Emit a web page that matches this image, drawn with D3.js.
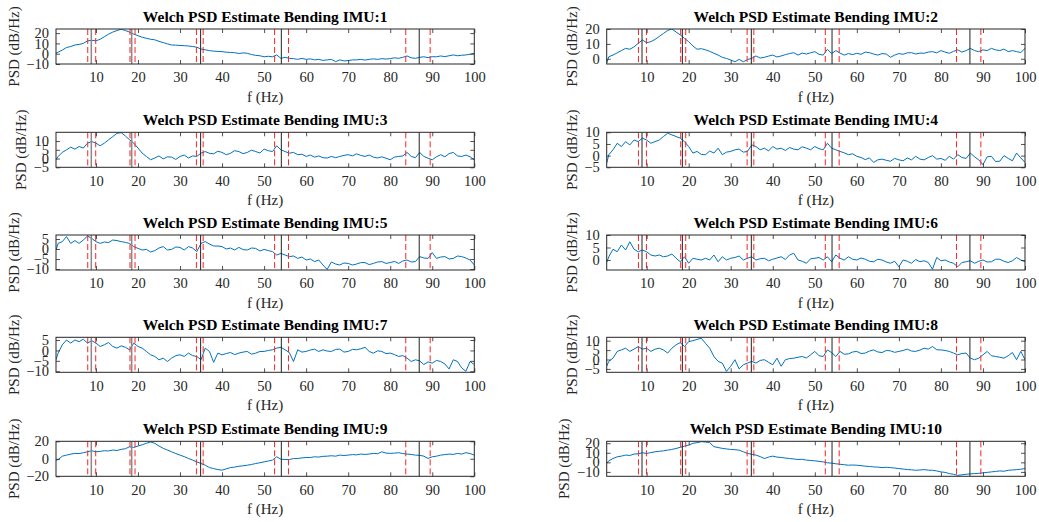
<!DOCTYPE html>
<html><head><meta charset="utf-8">
<script src="https://cdn.jsdelivr.net/npm/d3@7/dist/d3.min.js"></script>
<style>body{margin:0;background:#fff} svg{display:block}</style>
</head><body>
<svg id="c" width="1039" height="522"></svg>
<script>
// frequency grid (Hz)
const freqs = [0.5].concat(d3.range(1, 101));
const xTicks = [10, 20, 30, 40, 50, 60, 70, 80, 90, 100];
const blackLines = [8.9, 18.5, 34.9, 54.1, 86.9];
const redLines = [8.05, 9.95, 18.1, 19.3, 33.9, 35.5, 52.5, 55.8, 83.7, 89.5];
const titles = ["Welch PSD Estimate Bending IMU:1","Welch PSD Estimate Bending IMU:2","Welch PSD Estimate Bending IMU:3","Welch PSD Estimate Bending IMU:4","Welch PSD Estimate Bending IMU:5","Welch PSD Estimate Bending IMU:6","Welch PSD Estimate Bending IMU:7","Welch PSD Estimate Bending IMU:8","Welch PSD Estimate Bending IMU:9","Welch PSD Estimate Bending IMU:10"];
const yDomains = [[-10,24],[-3.5,20],[-5,15],[-5,10],[-10.5,7],[-4,10],[-10.5,6.3],[-6.8,11.8],[-20,20],[-14.6,22]];
const yTicks = [[-10,0,10,20],[0,10,20],[-5,0,5,10],[-5,0,5,10],[-10,-5,0,5],[0,5,10],[-10,-5,0,5],[-5,0,5,10],[-20,0,20],[-10,0,10,20]];

const imu1 = [0.5,1.5,3.5,6,7,8.5,9,10,12.5,13,12.5,14,16.5,19,21,22.5,23.8,22.5,21,19,17.5,16,15,14,13.5,12,10.8,9.5,8.5,8.3,8,7.8,7.5,7,6.3,4.5,3.8,3,2.5,2.2,2,1.5,1.2,1,0.2,0.8,0.4,-0.8,-1.6,-2,-3,-2.5,-3,-1.2,-4.5,-3.5,-4.5,-4.8,-5.5,-4.5,-5.5,-5,-6,-5.5,-6.5,-6,-5.5,-7.7,-6,-7,-6.7,-6,-6,-5.5,-6.2,-5.5,-5,-5.5,-4.8,-5.2,-4.8,-4,-4.5,-3.5,-2.2,-4,-4.5,-3.5,-3,-3.8,-2.9,-3,-2.2,-2.8,-2,-1.2,-2,-1.5,-1.2,-0.5,0.4];
const imu2 = [-3,1.4,2.5,4,5.5,7,6.4,8,10.4,12.6,10.8,11.5,13,15,17,19,20,18,16,13.7,11.5,8.6,6.4,6.8,6,5,3.7,2.5,1,0.2,-0.8,-2,-0.4,-2,-0.5,0.3,1.9,0.5,1,1.8,2.5,1.2,1.9,2.8,3.5,4.1,2.5,3.8,3.2,4,4.8,3,2.5,6.4,3.5,5.5,3.8,2.5,3.5,2.8,3.7,3,4.5,4.1,3.2,2.5,3.5,3.2,1,2.5,3.5,3,4,4.1,3.2,3.8,3.7,4.5,4.8,4,5.5,4.5,3.7,5,6,4.5,5.5,7,5.5,4.8,6,5.5,7,6,5.5,6.5,4.8,5.5,4.8,4.2,7];
const imu3 = [-0.7,1.2,3.5,5,6.5,5.4,6.9,6,8.8,9.7,8.8,7.3,8.8,10.7,12.5,14.4,14.8,12.9,10.7,8.8,6,3.1,1.2,-0.7,0.3,1.5,-0.2,1,0.8,-0.5,1.2,2,0.3,1.5,1.2,3.1,4,3,2.7,4.2,3.5,2.2,3,4.5,4,2.8,3.5,4.8,4,3.2,5.4,4.5,4,7.3,5,4,3.1,3.5,2.2,2.5,1.2,2,0.8,1.5,0.5,0.3,1.2,0.5,1.2,1.8,2.2,1.5,2.7,1.8,1.2,2,0.8,0.3,1,0.2,-0.7,0.8,1.2,1.5,3.5,1.2,0.5,3.5,1.2,0.2,-0.7,1,2.2,1,2.8,3.5,1.5,1.2,2,1,-0.7];
const imu4 = [-3.2,0.4,2.5,5.3,3.9,6,4.6,6.7,6,7.5,6.7,5.3,6,6.7,8.2,9.6,8.9,8.2,7.5,6,3.9,1.1,1.8,0.5,0.4,2,1.1,3.2,0.4,1.5,1.8,2.5,2.8,1.5,1.8,4.6,3.9,2.5,3.2,2,3.9,2.8,3.2,2.2,3.5,2.8,2.5,3.8,3.2,2.5,3.9,3,2.5,5.3,3.2,2.5,1.8,1.2,0.4,0.8,-0.3,-0.8,-1.7,-1,-2.9,-1.8,-1.5,-2,-2.4,-1.2,-1.8,-2.2,-1,-1.8,-0.3,-1.5,-1.8,-0.8,0,-1.5,-1.2,-2,-0.3,-1.5,0.4,-0.8,-1.2,1.1,-0.5,-1.8,-3.9,-0.5,-0.3,-2.5,-2.4,0,-1.2,-2.2,1.1,-1,-2.9];
const imu5 = [-0.5,2.8,3.7,6.2,2.8,4.2,2.8,4.5,6.5,5.3,3.7,2.8,3.5,3.2,4.5,4.2,3.7,3.3,2.8,1.2,0.3,-0.5,-0.2,-1.5,-0.8,0.5,1.2,-0.5,-0.2,1,0.8,-0.5,1.2,0.5,-1.3,2.8,3.7,2.5,1.5,1.5,1.2,0,0.5,-0.5,0.8,-0.3,-0.5,0.5,0.3,-1,-0.2,-0.8,-1.3,-3,-2.2,-3,-3.8,-3.5,-4.7,-4,-5.5,-5,-6.3,-5.5,-8,-10.2,-6.5,-7.5,-8,-7,-7.2,-8,-7.5,-6.8,-6.8,-7.8,-7.2,-6.5,-6.3,-7.2,-6.8,-6.2,-7.2,-6,-5.5,-6.5,-6.3,-3.8,-4.5,-4.7,-1.8,-4.7,-4,-3.8,-5,-4.7,-3.5,-3.8,-4.5,-5.5,-8];
const imu6 = [-1,1.3,4.3,3.3,6,4,7.3,4.3,3.3,4,3.3,2,1.6,2,1.3,1.6,2.4,0.7,-0.7,1.3,-1.3,0.7,0.3,0,0.7,0,2,-0.7,1.3,0,0.7,1,1.6,0,0.7,1.3,0,0.5,0.7,-0.3,0.3,0.8,1.3,0.2,2,2.7,0,-0.5,-1.3,0.5,0.7,1,0,1.3,-0.7,2,0.7,0,1.3,0.3,0,0.8,0.3,-0.5,-0.7,0.3,0,-0.8,-1.3,-0.5,-2.7,0,-0.5,-1.3,0.2,-0.7,-0.3,-1,-3.7,1,-0.3,0,-0.8,-1.3,-2.7,-1,-0.7,-0.3,-1.3,-0.5,0,-0.8,-0.7,0.3,0.3,-0.5,-1,-0.3,1,0,-0.7];
const imu7 = [-4.5,-1.3,2.7,5,3.5,5,4.2,5.4,3.5,4.7,3.5,1.9,2.7,3.8,1.9,1.1,2.2,1.5,0.3,3.5,1.9,1.1,-0.5,-2.1,-2.9,-4.5,-3.7,-5.3,-3.7,-2.5,-2.1,-2.9,-1.3,-2.5,-2.9,-4.5,1.1,-0.5,-5.7,-1.3,-2.1,-1.5,-1,-2,-1.3,-0.8,-0.5,-1.8,-1.3,-0.5,-0.5,0,0.3,1.1,1.5,0.3,-1,-5.3,0.3,-0.8,-0.5,0.2,0.6,-0.5,0.3,-0.3,-0.5,0.5,0.6,-0.8,-0.5,0.5,0.3,0.8,1.5,-0.5,-1.3,-0.2,-0.5,-1.5,-1.3,-2,-2.9,-2.5,-3.7,-5.3,-4.5,-5,-6.8,-5.5,-6.1,-4.8,-5.3,-6.5,-8.9,-4.5,-5.3,-8.4,-10,-5.3,-6.8];
const imu8 = [-3.6,-1,0.7,4.3,5.1,6,4.3,5.5,6.9,5.5,6,4.3,5.5,6,5.1,3.4,6,7.8,9,6.9,9.5,10,10.7,11.3,8.6,6,1.6,-1,-1.9,-6.3,-3.6,-0.1,-5,-2.8,-1.9,-1,-1.9,-0.5,-0.1,-1.5,-2.8,0.7,-3.6,-0.1,0.5,0.7,1.2,1.6,0.8,2.5,4.3,2,1.6,5.1,3.7,1.6,4.3,2.8,3,4,4.3,3.2,3.4,4.5,5.1,4,3.7,4.8,4.6,3.8,4.3,4.8,5.5,4.5,4.3,5,6,5.5,6.9,5.2,5.1,4.8,4.3,3.4,2.5,3.2,3.4,0.7,-0.1,0.7,2.5,4.3,2,1.6,1.2,0.7,2,3.7,-0.1,4.3,-0.1];
const imu9 = [-1.5,-1,3,4.2,5.3,6.2,6,7,8,9.2,8,8.5,9.2,9,10,9.5,10.8,11.5,13.8,13,14.6,16,17.7,19.2,17.7,14.6,12,10,8,6,4.2,2.5,0.4,-1.5,-3.5,-5.4,-7.3,-10,-11.2,-12.3,-13,-11.5,-10,-9.5,-8.5,-8,-7.3,-6.5,-5.4,-4.5,-3.5,-2.5,-1.5,2.3,-0.5,-0.8,-0.8,0.2,0.4,1,1.5,1.5,2.3,2,2.8,3,3.5,3,4.2,3.8,4.2,4.8,4.5,5.4,5,5.4,6.2,5.8,8,6.5,6.2,6.5,7,6,5.4,5,4.2,4,3,0.4,2.3,3,4.2,4.8,5.4,5,6.2,5.4,7,6,4.2];
const imu10 = [-1.2,1.6,4,5.8,6.5,7.6,7.2,8.6,9,10,9.3,10.2,11,11.5,12,12.8,13.5,14.5,15.7,17,18,19.9,20.6,21.6,21.2,20.6,16.4,15.5,14.6,14,13.5,13.2,12.8,11,9.3,8.5,7.6,6,4,5.5,6.5,5.5,5.1,4.5,4,3.5,3,3.2,2.3,2,1.6,1,0.5,-0.5,-0.8,-1.5,-2,-2.5,-3,-2.8,-3,-3.5,-4,-4.3,-4.8,-5,-5.5,-5.2,-5.5,-6,-6.5,-7,-7.6,-7.8,-8.3,-8,-7.6,-8.2,-8.3,-9,-10,-10.5,-11.8,-12.5,-13.6,-13,-12.5,-12,-11.8,-11.5,-11,-10.5,-10,-9.5,-9,-9.3,-8.3,-8,-7.6,-7.2,-6.5];
const series = [imu1, imu2, imu3, imu4, imu5, imu6, imu7, imu8, imu9, imu10];

const svg = d3.select("#c");
const colLeft = [56, 606.7], boxW = 418.3;
const rowTop = [29, 132.3, 235, 337.3, 441.3], boxH = 35;
const font = "'Liberation Serif','Times New Roman',serif";
const axisColor = "#262626";

series.forEach((vals, i) => {
  const col = i % 2, row = Math.floor(i / 2);
  const x0 = colLeft[col], y0 = rowTop[row];
  const g = svg.append("g").attr("transform", `translate(${x0},${y0})`);
  const x = d3.scaleLinear().domain([0.5, 100]).range([0, boxW]);
  const y = d3.scaleLinear().domain(yDomains[i]).range([boxH, 0]);
  const cid = "clip" + i;
  g.append("clipPath").attr("id", cid).append("rect").attr("width", boxW).attr("height", boxH);

  const plot = g.append("g").attr("clip-path", `url(#${cid})`);
  plot.append("path")
    .datum(vals)
    .attr("fill", "none").attr("stroke", "#0072BD").attr("stroke-width", 1)
    .attr("d", d3.line().x((d, k) => x(freqs[k])).y(d => y(d)));
  plot.selectAll(".rl").data(redLines).enter().append("line")
    .attr("x1", d => x(d)).attr("x2", d => x(d)).attr("y1", 0).attr("y2", boxH)
    .attr("stroke", "#ff2020").attr("stroke-width", 1).attr("stroke-dasharray", "6,3");
  plot.selectAll(".bl").data(blackLines).enter().append("line")
    .attr("x1", d => x(d)).attr("x2", d => x(d)).attr("y1", 0).attr("y2", boxH)
    .attr("stroke", (d, k) => (col === 0 && k < 2) ? "#888" : "#222")
    .attr("stroke-width", (d, k) => (col === 0 && k < 2) ? 1.5 : 1);

  // axes
  const xb = g.append("g").attr("transform", `translate(0,${boxH})`)
    .call(d3.axisBottom(x).tickValues(xTicks).tickSize(-4).tickPadding(8).tickFormat(d3.format("d")));
  const xt = g.append("g").call(d3.axisTop(x).tickValues(xTicks).tickSize(-4).tickFormat(""));
  const yl = g.append("g").call(d3.axisLeft(y).tickValues(yTicks[i]).tickSize(-4).tickPadding(7).tickFormat(d3.format("d")));
  const yr = g.append("g").attr("transform", `translate(${boxW},0)`).call(d3.axisRight(y).tickValues(yTicks[i]).tickSize(-4).tickFormat(""));
  [xb, xt, yl, yr].forEach(a => {
    a.select(".domain").remove();
    a.selectAll("line").attr("stroke", axisColor).attr("stroke-width", 0.8);
    a.selectAll("text").attr("font-family", font).attr("font-size", "14.5px").attr("fill", axisColor);
  });
  xb.selectAll("text").attr("dy", "0.71em");
  g.append("rect").attr("width", boxW).attr("height", boxH)
    .attr("fill", "none").attr("stroke", axisColor).attr("stroke-width", 1);

  // title
  g.append("text").attr("x", boxW / 2).attr("y", -7.5).attr("text-anchor", "middle")
    .attr("font-family", font).attr("font-weight", "bold").attr("font-size", "15.5px").attr("fill", "#000")
    .text(titles[i]);
  // x label
  g.append("text").attr("x", boxW / 2).attr("y", boxH + 38).attr("text-anchor", "middle")
    .attr("font-family", font).attr("font-size", "15px").attr("fill", axisColor)
    .text("f (Hz)");
  // y label
  let maxW = 0;
  yl.selectAll("text").each(function () { maxW = Math.max(maxW, this.getComputedTextLength()); });
  const lx = -7 - maxW - 13;
  g.append("text").attr("transform", `translate(${lx},${boxH / 2}) rotate(-90)`)
    .attr("text-anchor", "middle").attr("dy", "0.35em")
    .attr("font-family", font).attr("font-size", "15px").attr("fill", axisColor)
    .text("PSD (dB/Hz)");
});
</script>
</body></html>
